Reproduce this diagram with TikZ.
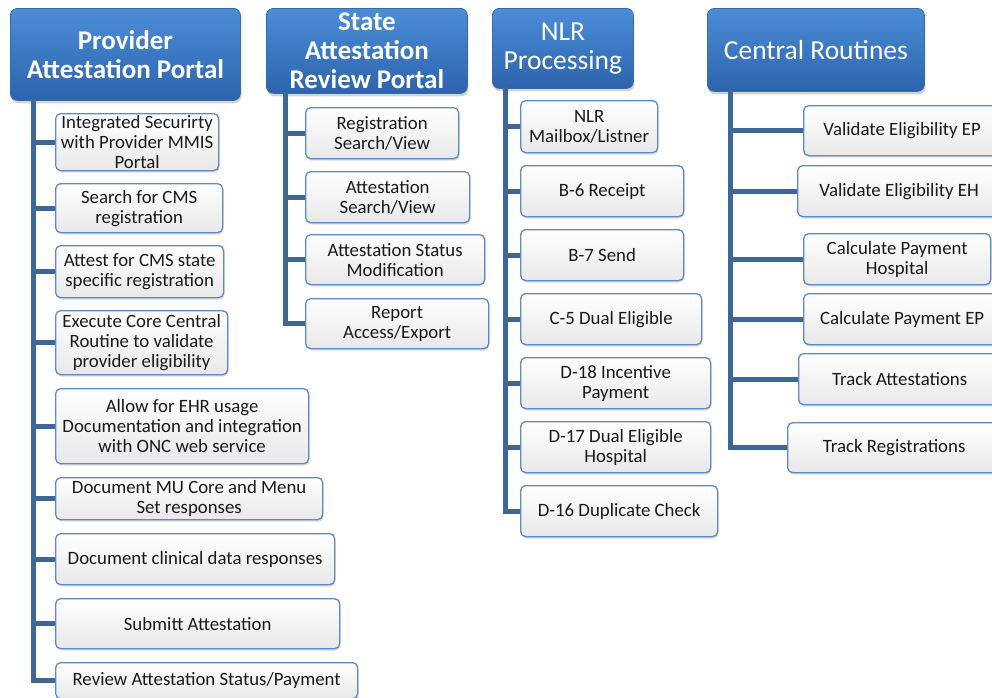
\documentclass[tikz,border=0pt]{standalone}
\usepackage{fontspec}
\setmainfont{Carlito}
\usetikzlibrary{positioning,shadows}
\definecolor{hdrtop}{HTML}{4C8DD8}
\definecolor{hdrbot}{HTML}{2C64AC}
\definecolor{hdrline}{HTML}{3A6AA6}
\definecolor{itemline}{HTML}{5B8BC8}
\definecolor{trunkblue}{HTML}{3E6797}
\tikzset{
  header/.style={draw=hdrline, line width=0.8pt, rounded corners=7pt,
    top color=hdrtop, bottom color=hdrbot, text=white, align=center,
    anchor=north west, inner sep=0pt, font=\fontsize{27.5}{29}\selectfont,
    drop shadow={shadow xshift=1pt, shadow yshift=-3pt, opacity=0.35}},
  hdrbold/.style={header, font=\fontsize{27}{29}\selectfont\bfseries},
  item/.style={draw=itemline, line width=1.3pt, rounded corners=5pt,
    top color=white, bottom color=black!9, align=center, text=black!90,
    anchor=north west, inner sep=0pt, font=\fontsize{18.8}{20}\selectfont,
    drop shadow={shadow xshift=1pt, shadow yshift=-2pt, opacity=0.25}},
  branch/.style={draw=trunkblue, line width=5pt, line join=miter},
}
\begin{document}
\begin{tikzpicture}[x=1pt, y=-1pt]
\useasboundingbox (0,0) rectangle (992,697);

% headers
\node[hdrbold, minimum width=230, minimum height=92] (prov) at (10,8) {Provider\\Attestation Portal};
\node[hdrbold, minimum width=201, minimum height=85] (state) at (266,8) {State\\Attestation\\Review Portal};
\node[header, minimum width=141, minimum height=80] (nlr) at (492,8) {NLR\\Processing};
\node[header, minimum width=217, minimum height=83] (central) at (707,8) {Central Routines};

% provider portal
\node[item, minimum width=163, minimum height=57] (p1) at (55,113) {Integrated Securirty\\with Provider MMIS\\Portal};
\node[item, minimum width=167, minimum height=49] (p2) at (55,183) {Search for CMS\\registration};
\node[item, minimum width=168, minimum height=52] (p3) at (55,245) {Attest for CMS state\\specific registration};
\node[item, minimum width=172, minimum height=64] (p4) at (55,310) {Execute Core Central\\Routine to validate\\provider eligibility};
\node[item, minimum width=253, minimum height=75] (p5) at (55,388) {Allow for EHR usage\\Documentation and integration\\with ONC web service};
\node[item, minimum width=267, minimum height=42] (p6) at (55,477) {Document MU Core and Menu\\Set responses};
\node[item, minimum width=279, minimum height=51] (p7) at (55,533) {Document clinical data responses};
\node[item, minimum width=284, minimum height=50] (p8) at (55,598) {Submitt Attestation};
\node[item, minimum width=302, minimum height=36] (p9) at (55,662) {Review Attestation Status/Payment};

% state review portal
\node[item, minimum width=153, minimum height=51] (s1) at (305,107) {Registration\\Search/View};
\node[item, minimum width=164, minimum height=51] (s2) at (305,171) {Attestation\\Search/View};
\node[item, minimum width=179, minimum height=50] (s3) at (305,234) {Attestation Status\\Modification};
\node[item, minimum width=183, minimum height=50] (s4) at (305,298) {Report\\Access/Export};

% nlr processing
\node[item, minimum width=137, minimum height=52] (n1) at (520,100) {NLR\\Mailbox/Listner};
\node[item, minimum width=163, minimum height=51] (n2) at (520,165) {B-6 Receipt};
\node[item, minimum width=163, minimum height=51] (n3) at (520,229) {B-7 Send};
\node[item, minimum width=181, minimum height=51] (n4) at (520,293) {C-5 Dual Eligible};
\node[item, minimum width=190, minimum height=51] (n5) at (520,357) {D-18 Incentive\\Payment};
\node[item, minimum width=190, minimum height=51] (n6) at (520,421) {D-17 Dual Eligible\\Hospital};
\node[item, minimum width=197, minimum height=51] (n7) at (520,485) {D-16 Duplicate Check};

% central routines
\node[item, minimum width=197, minimum height=50] (c1) at (803,105) {Validate Eligibility EP};
\node[item, minimum width=203, minimum height=51] (c2) at (797,165) {Validate Eligibility EH};
\node[item, minimum width=187, minimum height=51] (c3) at (803,233) {Calculate Payment\\Hospital};
\node[item, minimum width=197, minimum height=51] (c4) at (803,293) {Calculate Payment EP};
\node[item, minimum width=202, minimum height=51] (c5) at (798,353) {Track Attestations};
\node[item, minimum width=213, minimum height=50] (c6) at (787,422) {Track Registrations};

% trunks and branches
\coordinate (t1) at (33,99);
\coordinate (t2) at (285,92);
\coordinate (t3) at (505,87);
\coordinate (t4) at (730,90);
\draw[branch] (t1) |- (p9.west);
\foreach \n in {p1,p2,p3,p4,p5,p6,p7,p8}
  \draw[branch] (t1 |- \n.west) -- (\n.west);
\draw[branch] (t2) |- (s4.west);
\foreach \n in {s1,s2,s3}
  \draw[branch] (t2 |- \n.west) -- (\n.west);
\draw[branch] (t3) |- (n7.west);
\foreach \n in {n1,n2,n3,n4,n5,n6}
  \draw[branch] (t3 |- \n.west) -- (\n.west);
\draw[branch] (t4) |- (c6.west);
\foreach \n in {c1,c2,c3,c4,c5}
  \draw[branch] (t4 |- \n.west) -- (\n.west);
\end{tikzpicture}
\end{document}
